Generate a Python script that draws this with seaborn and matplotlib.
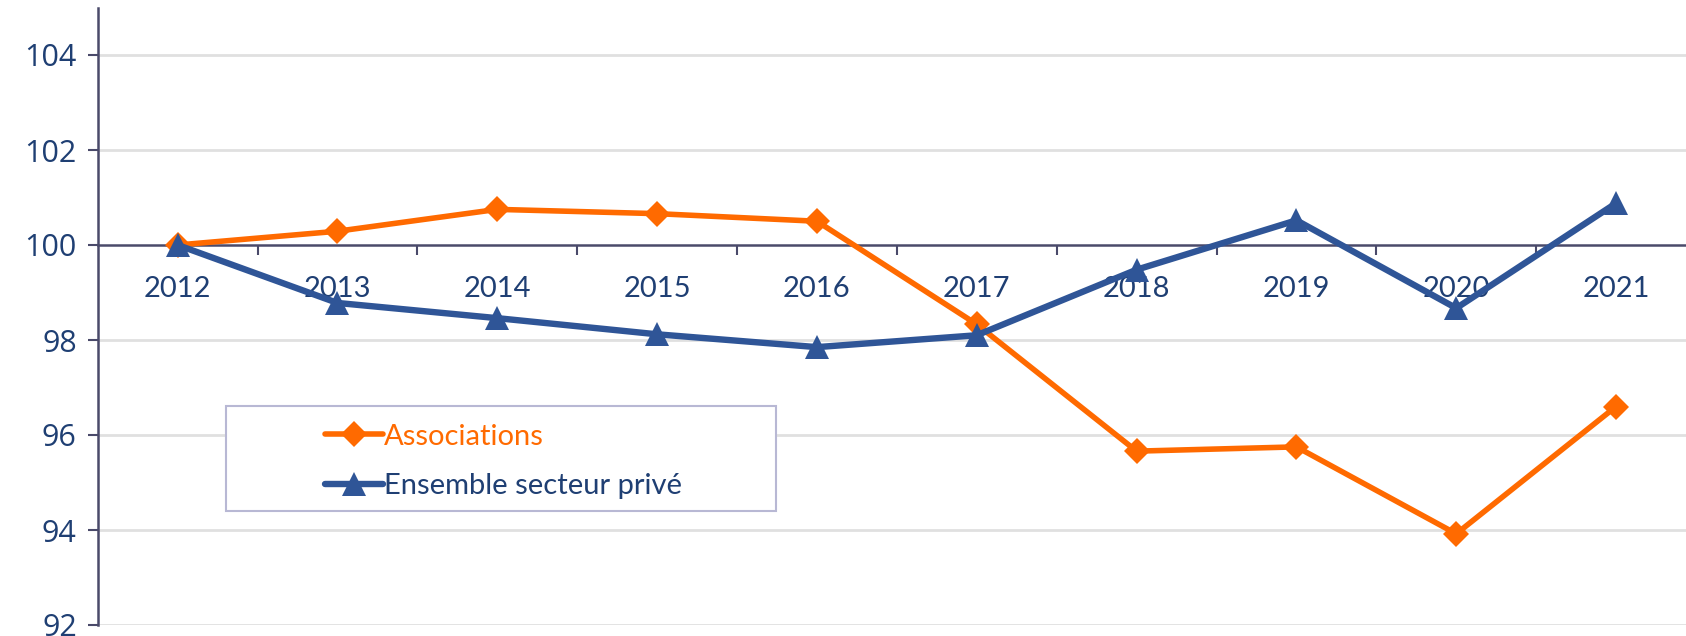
import matplotlib
matplotlib.use("Agg")
import matplotlib.pyplot as plt
import seaborn as sns
import pandas as pd
import numpy as np
from matplotlib.patches import Rectangle
from matplotlib.lines import Line2D

years = ["2012", "2013", "2014", "2015", "2016", "2017", "2018", "2019", "2020", "2021"]
associations = [100.0, 100.29, 100.75, 100.66, 100.5, 98.33, 95.66, 95.75, 93.92, 96.6]
ensemble = [100.0, 98.78, 98.46, 98.12, 97.85, 98.1, 99.48, 100.52, 98.67, 100.88]
series_names = ["Associations", "Ensemble secteur privé"]
y_ticks = [92, 94, 96, 98, 100, 102, 104]

ORANGE = "#FF6A00"
BLUE = "#2F5597"
TEXT = "#1F3F73"
AXIS = "#4A4A6A"
GRID = "#E0E0E0"

sns.set_theme(style="white")
plt.rcParams["font.family"] = ["Lato", "DejaVu Sans"]

df = pd.DataFrame({
    "year": years * 2,
    "value": associations + ensemble,
    "series": [series_names[0]] * len(years) + [series_names[1]] * len(years),
})

fig = plt.figure(figsize=(16.86, 6.36), dpi=100)
ax = fig.add_axes([97.7 / 1686, 11 / 636, (1696 - 97.7) / 1686, (625 - 7.5) / 636])

sns.lineplot(data=df[df.series == series_names[0]], x="year", y="value", sort=False,
             ax=ax, color=ORANGE, lw=4.0, marker="D", markersize=13,
             markeredgewidth=0, legend=False, zorder=3)
sns.lineplot(data=df[df.series == series_names[1]], x="year", y="value", sort=False,
             ax=ax, color=BLUE, lw=4.6, marker="^", markersize=17,
             markeredgewidth=0, legend=False, zorder=4)

ax.set_xlim(-0.5, len(years) - 0.5)
ax.set_ylim(92, 105)
ax.set_xlabel("")
ax.set_ylabel("")

# grid
ax.set_yticks(y_ticks)
for yv in y_ticks:
    if yv != 100:
        ax.axhline(yv, color=GRID, lw=2, zorder=0)

# spines
for s in ["top", "right"]:
    ax.spines[s].set_visible(False)
ax.spines["left"].set_color(AXIS)
ax.spines["left"].set_linewidth(1.8)
ax.spines["bottom"].set_position(("data", 100))
ax.spines["bottom"].set_color(AXIS)
ax.spines["bottom"].set_linewidth(1.8)
ax.spines["bottom"].set_zorder(2)

# y ticks
ax.tick_params(axis="y", which="major", direction="out", length=7, width=1.5,
               color=AXIS, left=True, labelsize=22, labelcolor=TEXT, pad=8)
for lab in ax.get_yticklabels():
    lab.set_family(["Open Sans", "DejaVu Sans"])

# x ticks: labels at categories, tick marks at boundaries
ax.set_xticks(range(len(years)))
ax.set_xticklabels(years)
ax.set_xticks(np.arange(0.5, len(years) - 0.5, 1), minor=True)
ax.tick_params(axis="x", which="major", length=0, labelsize=21, labelcolor=TEXT, pad=22)
ax.tick_params(axis="x", which="minor", direction="out", length=7, width=1.5,
               color=AXIS, bottom=True)

# legend box
fig.patches.append(Rectangle((226 / 1686, 1 - 511 / 636), (776 - 226) / 1686, (511 - 406) / 636,
                             transform=fig.transFigure, fill=True, facecolor="white",
                             edgecolor="#B8B8D4", lw=1.5, zorder=5))
handles = [
    Line2D([], [], color=ORANGE, lw=4.0, marker="D", markersize=13, markeredgewidth=0),
    Line2D([], [], color=BLUE, lw=4.6, marker="^", markersize=17, markeredgewidth=0),
]
leg = fig.legend(handles, series_names, loc="upper left",
                 bbox_to_anchor=(310 / 1686, 1 - 409 / 636), frameon=False,
                 fontsize=21, handlelength=2.0, handletextpad=0.05, labelspacing=0.8,
                 borderpad=0)
leg.set_zorder(6)
for txt, c in zip(leg.get_texts(), [ORANGE, TEXT]):
    txt.set_color(c)

fig.savefig("out.png", dpi=100)
